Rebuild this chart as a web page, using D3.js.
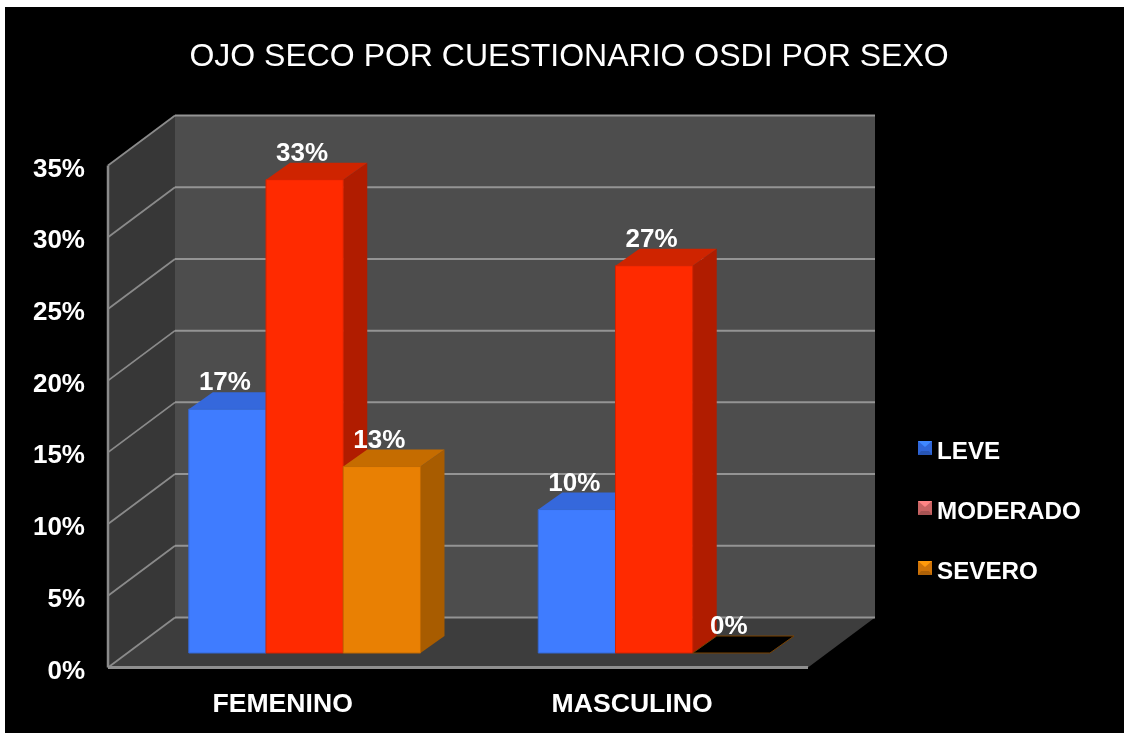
<!DOCTYPE html>
<html><head><meta charset="utf-8">
<script src="https://cdnjs.cloudflare.com/ajax/libs/d3/7.8.5/d3.min.js"></script>
<style>html,body{margin:0;padding:0;background:#fff;overflow:hidden}svg{display:block;filter:blur(0.55px)}text{font-family:"Liberation Sans",Arial,sans-serif;fill:#fff}</style>
</head><body><svg id="c" width="1124" height="734"></svg>
<script>
const title = "OJO SECO POR CUESTIONARIO OSDI POR SEXO";
const categories = ["FEMENINO", "MASCULINO"];
const seriesNames = ["LEVE", "MODERADO", "SEVERO"];
const leve = [17, 10];
const moderado = [33, 27];
const severo = [13, 0];
const yTicks = [0, 5, 10, 15, 20, 25, 30, 35];
const faceColors = ["#3f7cff", "#ff2a00", "#e98003"];
const topColors = ["#3568dc", "#cf2400", "#c56c00"];
const sideColors = ["#2a54b0", "#b01c00", "#a85c00"];
const legendColors = ["#2f66d8", "#c96464", "#cf7408"];

const svg = d3.select("#c");
svg.append("rect").attr("x", 5).attr("y", 7).attr("width", 1119).attr("height", 726).attr("fill", "#000");

const x0 = 108, x1 = 808, yBase = 667.5, yTop = 165.5, depthX = 67, depthY = -50;
const y = d3.scaleLinear().domain([0, 35]).range([yBase, yTop]);
const poly = (pts, fill, stroke) => svg.append("polygon").attr("points", pts.map(p => p.join(",")).join(" ")).attr("fill", fill).attr("stroke", stroke || "none");
const seg = (a, b, col, w) => svg.append("line").attr("x1", a[0]).attr("y1", a[1]).attr("x2", b[0]).attr("y2", b[1]).attr("stroke", col).attr("stroke-width", w);

// walls and floor
poly([[x0 + depthX, y(35) + depthY], [x1 + depthX, y(35) + depthY], [x1 + depthX, y(0) + depthY], [x0 + depthX, y(0) + depthY]], "#4d4d4d");
poly([[x0, y(35)], [x0 + depthX, y(35) + depthY], [x0 + depthX, y(0) + depthY], [x0, y(0)]], "#373737");
poly([[x0, y(0)], [x1, y(0)], [x1 + depthX, y(0) + depthY], [x0 + depthX, y(0) + depthY]], "#3d3d3d");
yTicks.forEach(t => {
  seg([x0, y(t)], [x0 + depthX, y(t) + depthY], "#8a8a8a", 1.8);
  seg([x0 + depthX, y(t) + depthY], [x1 + depthX, y(t) + depthY], "#949494", 2);
});
seg([x0, y(35)], [x0, y(0)], "#8a8a8a", 2.5);
seg([x0, y(0)], [x1, y(0)], "#8f8f8f", 3);

// y tick labels
svg.append("g").selectAll("text").data(yTicks).join("text")
  .attr("x", 85).attr("y", d => y(d) + 11).attr("text-anchor", "end")
  .attr("font-size", 26).attr("font-weight", "bold").text(d => d + "%");

// bars
const xCat = d3.scaleBand().domain(categories).range([x0, x1]).paddingInner(0.337).paddingOuter(0.17).align(0.52);
const xSer = d3.scaleBand().domain(seriesNames).range([0, xCat.bandwidth()]);
const offX = 19, offY = -14.5, barDX = 24, barDY = -17;
const values = [leve, moderado, severo];
categories.forEach((c, ci) => {
  seriesNames.forEach((s, si) => {
    const v = values[si][ci];
    const l = xCat(c) + xSer(s) + offX, r = l + xSer.bandwidth();
    const b = y(0) + offY, t = y(v) + offY;
    if (v === 0) {
      poly([[l, b], [r, b], [r + barDX, b + barDY], [l + barDX, b + barDY]], "#000", "#7a4200");
    } else {
      poly([[r, t], [r + barDX, t + barDY], [r + barDX, b + barDY], [r, b]], sideColors[si]);
      poly([[l, t], [r, t], [r + barDX, t + barDY], [l + barDX, t + barDY]], topColors[si]);
      poly([[l, t], [r, t], [r, b], [l, b]], faceColors[si], d3.color(faceColors[si]).darker(0.5).formatHex());
    }
  });
});
categories.forEach((c, ci) => {
  seriesNames.forEach((s, si) => {
    const v = values[si][ci];
    const l = xCat(c) + xSer(s) + offX;
    svg.append("text").attr("x", l + xSer.bandwidth() / 2 - 2.5).attr("y", y(v) + offY - 19)
      .attr("text-anchor", "middle").attr("font-size", 26).attr("font-weight", "bold").text(v + "%");
  });
});

// category labels
svg.append("g").selectAll("text").data(categories).join("text")
  .attr("x", d => xCat(d) + xCat.bandwidth() / 2 - 3).attr("y", 712).attr("text-anchor", "middle")
  .attr("font-size", 26.6).attr("font-weight", "bold").text(d => d);

// legend
const yLeg = d3.scalePoint().domain(seriesNames).range([441, 561]);
seriesNames.forEach((s, i) => {
  const ly = yLeg(s);
  const col = legendColors[i];
  svg.append("rect").attr("x", 918).attr("y", ly).attr("width", 14).attr("height", 14).attr("fill", col);
  poly([[918, ly], [932, ly], [925, ly + 6]], d3.color(col).brighter(0.8).formatHex());
  poly([[918, ly + 14], [932, ly + 14], [929, ly + 10], [921, ly + 10]], d3.color(col).darker(0.5).formatHex());
  svg.append("text").attr("x", 937).attr("y", ly + 18).attr("font-size", 24.2).attr("font-weight", "bold").text(s);
});

// title
svg.append("text").attr("x", 569).attr("y", 66).attr("text-anchor", "middle").attr("font-size", 32).text(title);
</script></body></html>
